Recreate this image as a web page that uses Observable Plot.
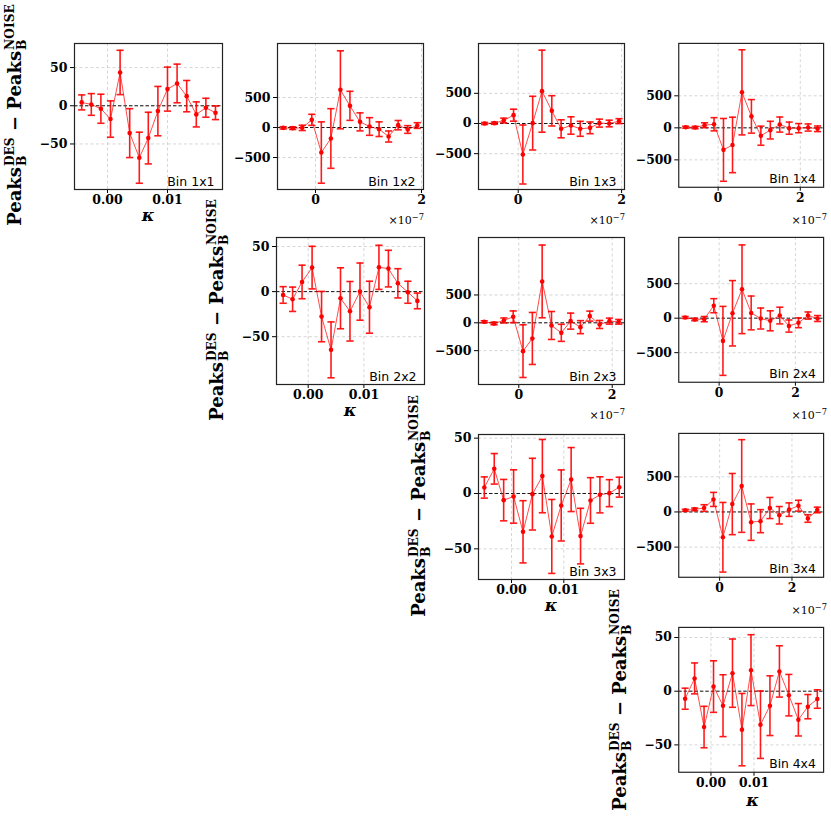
<!DOCTYPE html>
<html>
<head>
<meta charset="utf-8">
<script src="https://cdn.jsdelivr.net/npm/d3@7"></script>
<script src="https://cdn.jsdelivr.net/npm/@observablehq/plot@0.6"></script>
<style>
  body { margin: 0; background: #fff; }
  #chart { position: relative; width: 831px; height: 824px; background: #fff; overflow: hidden; }
  .panel { position: absolute; }
  .ylab { position: absolute; font-family: "DejaVu Serif"; font-weight: bold; font-size: 18px; white-space: nowrap;
          transform: translate(-50%, -50%) rotate(-90deg); line-height: 1; color: #000; }
  .ss { display: inline-flex; flex-direction: column; align-items: flex-start; font-size: 0.68em; line-height: 0.95;
        vertical-align: 0.53em; margin-left: 1px; }
  .kap { position: absolute; font-family: "DejaVu Serif"; font-weight: bold; font-style: italic; font-size: 17px;
         transform: translate(-50%, -50%); line-height: 0.7; }
  .off { position: absolute; font-family: "DejaVu Serif"; font-size: 11px; line-height: 1; transform: translateX(-100%); white-space: nowrap; }
  .off sup { font-size: 0.75em; vertical-align: 0.45em; line-height: 0; }
</style>
</head>
<body>
<div id="chart"></div>
<script>
// ---- tick labels ----
const xTicksDiag = [0, 0.01];
const xTicksOff = [0, 2];          // in units of 1e-7
const yTicksDiag = [-50, 0, 50];
const yTicksOff = [-500, 0, 500];
const offsetLabel = "−7";

// ---- data: Peaks_B^DES - Peaks_B^NOISE per kappa bin ----
const bin11_x = [-0.0043, -0.0027, -0.0011, 0.0005, 0.0021, 0.0037, 0.0053, 0.0068, 0.0084, 0.0100, 0.0116, 0.0132, 0.0148, 0.0164, 0.0180];
const bin11_y = [4.4, 1.7, -3.9, -17.4, 43.6, -35.8, -68, -42.3, -7, 21.8, 29.2, 12.6, -11.3, -2.6, -9.2];
const bin11_err = [9.8, 14.2, 19, 23.8, 29, 32, 33.4, 33.8, 32.3, 28.8, 25.3, 20.5, 16.4, 12.4, 8.9];

const bin12_x = [-0.61, -0.43, -0.25, -0.07, 0.11, 0.29, 0.47, 0.65, 0.84, 1.02, 1.20, 1.38, 1.56, 1.74, 1.92];
const bin12_y = [-6, -11, -6, 128, -417, -183, 628, 361, 94, 17, -28, -150, 39, -33, 33];
const bin12_err = [19, 22, 44, 92, 511, 497, 650, 242, 150, 147, 122, 92, 78, 64, 47];

const bin13_x = [-0.65, -0.46, -0.28, -0.09, 0.09, 0.28, 0.46, 0.65, 0.83, 1.02, 1.20, 1.39, 1.57, 1.76, 1.95];
const bin13_y = [0, 6, 50, 138, -514, 6, 536, 210, -88, -33, -88, -72, 6, 0, 39];
const bin13_err = [17, 19, 39, 99, 489, 445, 680, 251, 149, 144, 124, 97, 66, 55, 41];

const bin14_x = [-0.79, -0.56, -0.33, -0.10, 0.13, 0.35, 0.58, 0.81, 1.04, 1.27, 1.50, 1.73, 1.96, 2.19, 2.42];
const bin14_y = [10, 5, 41, 56, -344, -267, 554, 179, -123, -36, 51, -5, -5, 5, -15];
const bin14_err = [15, 18, 38, 103, 490, 433, 664, 262, 149, 138, 118, 95, 72, 56, 44];

const bin22_x = [-0.0045, -0.0028, -0.0011, 0.0007, 0.0024, 0.0041, 0.0058, 0.0075, 0.0093, 0.0110, 0.0127, 0.0144, 0.0161, 0.0179, 0.0196];
const bin22_y = [-3.7, -8.5, 10.7, 26.6, -27.7, -64.6, -7.4, -21.8, 0, -17.3, 26.9, 25.5, 9.2, -0.7, -10.3];
const bin22_err = [9.2, 13.5, 18.6, 23.6, 27.9, 31, 33.8, 33, 31.7, 28.8, 24.5, 20.3, 16.2, 12.2, 8.7];

const bin23_x = [-0.74, -0.53, -0.32, -0.12, 0.09, 0.29, 0.50, 0.70, 0.91, 1.11, 1.32, 1.52, 1.73, 1.94, 2.14];
const bin23_y = [18, -12, 42, 108, -509, -281, 743, -48, -180, 30, -78, 120, -30, 30, 18];
const bin23_err = [18, 24, 45, 105, 473, 467, 653, 251, 153, 144, 117, 90, 72, 54, 42];

const bin24_x = [-0.89, -0.64, -0.39, -0.14, 0.10, 0.35, 0.60, 0.84, 1.09, 1.34, 1.59, 1.83, 2.08, 2.33, 2.58];
const bin24_y = [10, -19, -14, 181, -329, 71, 419, 76, -5, -38, 38, -114, -67, 38, -5];
const bin24_err = [14, 17, 38, 102, 500, 474, 643, 245, 152, 145, 121, 88, 71, 52, 43];

const bin33_x = [-0.0052, -0.0033, -0.0015, 0.0004, 0.0022, 0.0040, 0.0059, 0.0077, 0.0095, 0.0114, 0.0132, 0.0151, 0.0169, 0.0187, 0.0206];
const bin33_y = [5.4, 22.3, -6, -2.7, -34.6, -0.6, 15.7, -38.8, -10.8, 12.6, -38.5, -6.3, -1.2, 0.3, 5.7];
const bin33_err = [9.6, 13.8, 18.7, 24.1, 28.1, 32.4, 33.1, 33.4, 32.1, 28.9, 25.1, 20.6, 16.3, 12.2, 9];

const bin34_x = [-0.95, -0.69, -0.43, -0.17, 0.09, 0.35, 0.61, 0.87, 1.13, 1.39, 1.65, 1.92, 2.18, 2.44, 2.70];
const bin34_y = [23, 37, 56, 178, -360, 112, 369, -145, -131, 56, -47, 33, 89, -93, 28];
const bin34_err = [14, 19, 47, 100, 495, 435, 659, 259, 164, 150, 124, 96, 77, 54, 40];

const bin44_x = [-0.0060, -0.0038, -0.0016, 0.0006, 0.0028, 0.0050, 0.0072, 0.0093, 0.0115, 0.0137, 0.0159, 0.0181, 0.0203, 0.0225, 0.0247];
const bin44_y = [-7, 11.9, -33.4, 4.3, -13.5, 16.8, -35.8, 19.6, -31.2, -13.5, 18.4, -3.7, -26.6, -14.4, -7.3];
const bin44_err = [9.8, 14.4, 19.3, 24, 28.8, 31.8, 33.7, 33, 31.4, 27.8, 23.9, 19.3, 15.1, 11.3, 8.6];

// ---- layout (frame boxes in page pixels, axis domains) ----
const panels = [
  {id: "1x1", x: bin11_x, y: bin11_y, e: bin11_err, diag: true,  xdom: [-0.0055, 0.01917], ydom: [-109.6, 81.5], L: 74,  R: 222, T: 43,  B: 189},
  {id: "1x2", x: bin12_x, y: bin12_y, e: bin12_err, diag: false, xdom: [-0.717, 2.038],    ydom: [-1033, 1400],  L: 277, R: 423, T: 43,  B: 189},
  {id: "1x3", x: bin13_x, y: bin13_y, e: bin13_err, diag: false, xdom: [-0.768, 2.056],    ydom: [-1094, 1326],  L: 478, R: 624, T: 43,  B: 189},
  {id: "1x4", x: bin14_x, y: bin14_y, e: bin14_err, diag: false, xdom: [-0.959, 2.567],    ydom: [-928, 1318],   L: 679, R: 826, T: 43,  B: 189},
  {id: "2x2", x: bin22_x, y: bin22_y, e: bin22_err, diag: true,  xdom: [-0.00569, 0.02088], ydom: [-103, 60],    L: 276, R: 424, T: 237, B: 384},
  {id: "2x3", x: bin23_x, y: bin23_y, e: bin23_err, diag: false, xdom: [-0.863, 2.263],    ydom: [-1108, 1532],  L: 478, R: 624, T: 237, B: 384},
  {id: "2x4", x: bin24_x, y: bin24_y, e: bin24_err, diag: false, xdom: [-1.059, 2.739],    ydom: [-929, 1171],   L: 679, R: 826, T: 237, B: 384},
  {id: "3x3", x: bin33_x, y: bin33_y, e: bin33_err, diag: true,  xdom: [-0.00631, 0.0216], ydom: [-77.7, 53.3],  L: 478, R: 624, T: 434, B: 579},
  {id: "3x4", x: bin34_x, y: bin34_y, e: bin34_err, diag: false, xdom: [-1.131, 2.875],    ydom: [-929, 1117],   L: 679, R: 826, T: 433, B: 579},
  {id: "4x4", x: bin44_x, y: bin44_y, e: bin44_err, diag: true,  xdom: [-0.00748, 0.02616], ydom: [-75.5, 59.4], L: 679, R: 826, T: 627, B: 774}
];

const ML = 52, MR = 8, MT = 6, MB = 40;
const chart = document.getElementById("chart");
const fmtY = d => d < 0 ? "−" + (-d) : String(d);
const capSymbol = {draw(ctx, size) { const r = Math.sqrt(size / Math.PI); ctx.moveTo(-r, 0); ctx.lineTo(r, 0); }};

for (const p of panels) {
  const data = p.x.map((x, i) => ({x, y: p.y[i], e: p.e[i]}));
  const xt = p.diag ? xTicksDiag : xTicksOff;
  const yt = p.diag ? yTicksDiag : yTicksOff;
  const w = p.R - p.L, h = p.B - p.T;
  const svg = Plot.plot({
    width: w + ML + MR, height: h + MT + MB,
    marginLeft: ML, marginRight: MR, marginTop: MT, marginBottom: MB,
    style: {background: "transparent", fontFamily: "DejaVu Serif", fontWeight: "bold", fontSize: "12.5px", color: "#000", overflow: "visible"},
    x: {domain: p.xdom},
    y: {domain: p.ydom},
    marks: [
      Plot.gridX({ticks: xt, stroke: "#c4c4c4", strokeOpacity: 1, strokeDasharray: "3,2.5", strokeWidth: 0.7}),
      Plot.gridY({ticks: yt, stroke: "#c4c4c4", strokeOpacity: 1, strokeDasharray: "3,2.5", strokeWidth: 0.7}),
      Plot.ruleY([0], {stroke: "#000", strokeDasharray: "3.5,2", strokeWidth: 0.9}),
      Plot.line(data, {x: "x", y: "y", stroke: "#ff0000", strokeOpacity: 0.7, strokeWidth: 1}),
      Plot.ruleX(data, {x: "x", y1: d => d.y - d.e, y2: d => d.y + d.e, stroke: "#ff0000", strokeWidth: 1.6, strokeOpacity: 0.9}),
      Plot.dot(data, {x: "x", y: d => d.y + d.e, symbol: capSymbol, r: 3.6, stroke: "#ff0000", fill: "none", strokeWidth: 1.6, strokeOpacity: 0.9}),
      Plot.dot(data, {x: "x", y: d => d.y - d.e, symbol: capSymbol, r: 3.6, stroke: "#ff0000", fill: "none", strokeWidth: 1.6, strokeOpacity: 0.9}),
      Plot.dot(data, {x: "x", y: "y", r: 2.3, fill: "#ff0000", stroke: "none"}),
      Plot.text([`Bin ${p.id}`], {frameAnchor: "bottom-right", dx: -8, dy: -4, fontFamily: "DejaVu Sans", fontWeight: "normal", fontSize: 12.5, fill: "#000"}),
      Plot.axisX({ticks: xt, tickFormat: p.diag ? (d => d.toFixed(2)) : (d => String(d)), tickSize: 4, tickPadding: 2, label: null}),
      Plot.axisY({ticks: yt, tickFormat: fmtY, tickSize: 4, tickPadding: 3, label: null}),
      Plot.frame({stroke: "#222", strokeWidth: 1.2})
    ]
  });
  const div = document.createElement("div");
  div.className = "panel";
  div.style.left = (p.L - ML) + "px";
  div.style.top = (p.T - MT) + "px";
  div.appendChild(svg);
  chart.appendChild(div);
}

// overlays: axis labels and offset text
for (const p of panels) {
  if (p.diag) {
    const yl = document.createElement("div");
    yl.className = "ylab";
    yl.innerHTML = 'Peaks<span class="ss"><span>DES</span><span>B</span></span> − Peaks<span class="ss"><span>NOISE</span><span>B</span></span>';
    yl.style.left = (p.L - 57) + "px";
    yl.style.top = ((p.T + p.B) / 2 - 1) + "px";
    chart.appendChild(yl);
    const k = document.createElement("div");
    k.className = "kap";
    k.textContent = "κ";
    k.style.left = ((p.L + p.R) / 2) + "px";
    k.style.top = (p.B + 27) + "px";
    chart.appendChild(k);
  } else {
    const o = document.createElement("div");
    o.className = "off";
    o.innerHTML = "×10<sup>" + offsetLabel + "</sup>";
    o.style.left = (p.R + 1) + "px";
    o.style.top = (p.B + 26) + "px";
    chart.appendChild(o);
  }
}
</script>
</body>
</html>
